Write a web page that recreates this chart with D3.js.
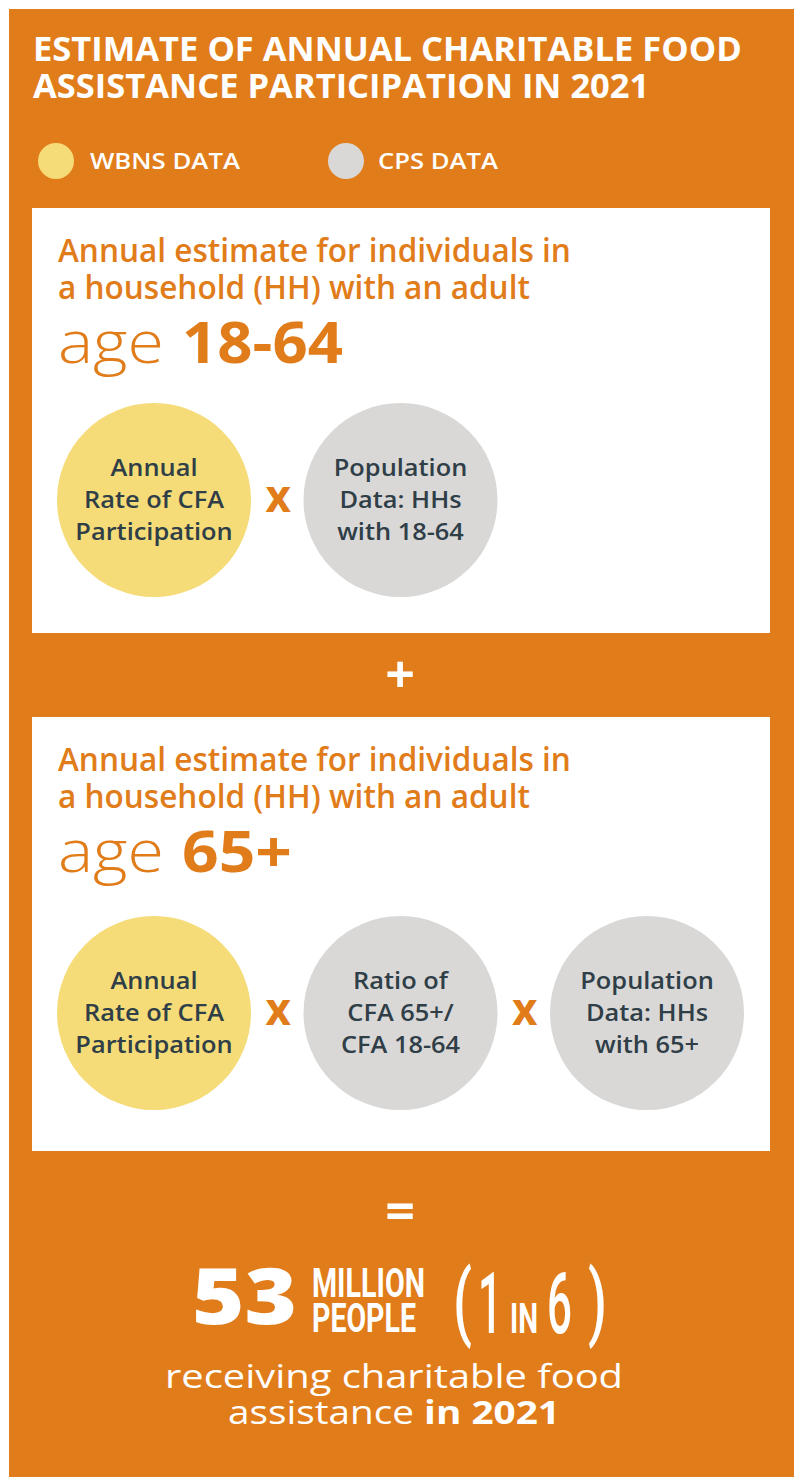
<!DOCTYPE html>
<html>
<head>
<meta charset="utf-8">
<script src="https://cdn.jsdelivr.net/npm/d3@7"></script>
<style>
  html, body { margin: 0; padding: 0; background: #fff; }
  svg { display: block; }
</style>
</head>
<body>
<svg id="chart" width="797" height="1477"></svg>
<script>
// ---- content ----
var titleLines = ["ESTIMATE OF ANNUAL CHARITABLE FOOD", "ASSISTANCE PARTICIPATION IN 2021"];
var legendSources = ["WBNS", "CPS"];
var legendLabels = ["WBNS DATA", "CPS DATA"];
var headlineLines = ["Annual estimate for individuals in", "a household (HH) with an adult"];
var panelAges = ["18-64", "65+"];
var panel1Sources = ["WBNS", "CPS"];
var panel1Factors = [
  ["Annual", "Rate of CFA", "Participation"],
  ["Population", "Data: HHs", "with 18-64"]
];
var panel2Sources = ["WBNS", "CPS", "CPS"];
var panel2Factors = [
  ["Annual", "Rate of CFA", "Participation"],
  ["Ratio of", "CFA 65+/", "CFA 18-64"],
  ["Population", "Data: HHs", "with 65+"]
];
var operators = ["+", "="];
var resultNumber = "53";
var resultUnit = ["MILLION", "PEOPLE"];
var resultRatio = ["(", "1", "IN", "6", ")"];
var captionLine1 = "receiving charitable food";
var captionLine2 = ["assistance ", "in 2021"];

// ---- style ----
var orange = "#E17C1A";
var dark = "#2F3E47";
var colorFor = { WBNS: "#F5DC78", CPS: "#D9D8D7" };
var font = "'Open Sans', 'DejaVu Sans', sans-serif";
var narrow = "'Roboto', 'Open Sans', sans-serif";

var svg = d3.select("#chart");

// widen a text node horizontally by a factor (the reference face is wider)
function stretch(node, factor) {
  var w = node.getComputedTextLength();
  d3.select(node).attr("textLength", w * factor).attr("lengthAdjust", "spacingAndGlyphs");
}

// place a text at (x, y) and squeeze/stretch it to a given ink width with a transform
function placeScaled(parent, str, x, y, width, size, weight, family) {
  var g = parent.append("g");
  var t = g.append("text")
    .attr("font-family", family).attr("font-weight", weight).attr("font-size", size)
    .attr("fill", "#fff")
    .text(str);
  var b = t.node().getBBox();
  var sx = width / b.width;
  g.attr("transform", "translate(" + (x - b.x * sx) + "," + y + ") scale(" + sx + ",1)");
  return g;
}

svg.append("rect").attr("x", 9).attr("y", 9).attr("width", 785).attr("height", 1470).attr("fill", orange);

// title
svg.selectAll(".title").data(titleLines).enter().append("text")
  .attr("class", "title")
  .attr("x", 33)
  .attr("y", function (d, i) { return 61 + i * 37; })
  .attr("font-family", font).attr("font-weight", 700).attr("font-size", 29)
  .attr("fill", "#fff")
  .text(function (d) { return d; });
var tw = svg.select(".title").node().getComputedTextLength();
svg.selectAll(".title").attr("font-size", 29 * 709 / tw);

// legend
var legendX = d3.scaleLinear().domain([0, 1]).range([56, 346]);
var legendW = [150, 120];
var lg = svg.selectAll(".legend").data(legendSources).enter().append("g")
  .attr("class", "legend")
  .attr("transform", function (d, i) { return "translate(" + legendX(i) + ",161)"; });
lg.append("circle").attr("r", 18).attr("fill", function (d) { return colorFor[d]; });
lg.append("text")
  .attr("x", function (d, i) { return i === 0 ? 34 : 32; }).attr("y", 8)
  .attr("font-family", font).attr("font-weight", 600).attr("font-size", 21)
  .attr("fill", "#fff")
  .attr("textLength", function (d, i) { return legendW[i]; })
  .attr("lengthAdjust", "spacingAndGlyphs")
  .text(function (d, i) { return legendLabels[i]; });

// panels
var factorX = d3.scaleLinear().domain([0, 2]).range([154, 647]);
var ageW = { "18-64": 161, "65+": 110 };

function drawPanel(top, height, age, sources, factors) {
  var g = svg.append("g");
  g.append("rect").attr("x", 32).attr("y", top).attr("width", 738).attr("height", height).attr("fill", "#fff");

  var hl = g.selectAll(".hl").data(headlineLines).enter().append("text")
    .attr("x", 58)
    .attr("y", function (d, i) { return top + 54 + i * 37; })
    .attr("font-family", font).attr("font-weight", 600).attr("font-size", 27)
    .attr("fill", orange)
    .text(function (d) { return d; });
  var hw = hl.node().getComputedTextLength();
  hl.attr("font-size", 27 * 513 / hw);

  g.append("text")
    .attr("x", 58).attr("y", top + 155)
    .attr("font-family", font).attr("font-weight", 300).attr("font-size", 58)
    .attr("fill", orange)
    .attr("textLength", 106).attr("lengthAdjust", "spacingAndGlyphs")
    .text("age");
  g.append("text")
    .attr("x", 182).attr("y", top + 155)
    .attr("font-family", font).attr("font-weight", 700).attr("font-size", 58)
    .attr("fill", orange)
    .attr("textLength", ageW[age]).attr("lengthAdjust", "spacingAndGlyphs")
    .text(age);

  var cy = factors.length === 3 ? top + 296 : top + 292;
  var fg = g.selectAll(".factor").data(factors).enter().append("g")
    .attr("transform", function (d, i) { return "translate(" + factorX(i) + "," + cy + ")"; });
  fg.append("circle").attr("r", 97).attr("fill", function (d, i) { return colorFor[sources[i]]; });
  fg.selectAll("text").data(function (d) { return d; }).enter().append("text")
    .attr("text-anchor", "middle")
    .attr("y", function (d, j) { return -24 + j * 32; })
    .attr("font-family", font).attr("font-weight", 600).attr("font-size", 23.5)
    .attr("fill", dark)
    .text(function (d) { return d; })
    .each(function () { stretch(this, 1.08); });

  g.selectAll(".op").data(d3.range(factors.length - 1)).enter().append("text")
    .attr("text-anchor", "middle")
    .attr("x", function (i) { return (factorX(i) + factorX(i + 1)) / 2 + 1; })
    .attr("y", cy + 12)
    .attr("font-family", font).attr("font-weight", 700).attr("font-size", 44)
    .attr("fill", orange)
    .text("x");
}

drawPanel(208, 425, panelAges[0], panel1Sources, panel1Factors);
drawPanel(717, 434, panelAges[1], panel2Sources, panel2Factors);

// operators between panels
svg.selectAll(".bigop").data(operators).enter().append("text")
  .attr("text-anchor", "middle")
  .attr("x", 400)
  .attr("y", function (d, i) { return i === 0 ? 693 : 1230; })
  .attr("font-family", font).attr("font-weight", 700).attr("font-size", 52)
  .attr("fill", "#fff")
  .text(function (d) { return d; });

// result row
var result = svg.append("g");
placeScaled(result, resultNumber, 192, 1324, 105, 78, 800, font);

var unitY = [1297, 1332];
var unitW = [113, 104];
resultUnit.forEach(function (d, i) {
  placeScaled(result, d, 312, unitY[i], unitW[i], 40, 700, narrow);
});

var ratioX = [453, 478, 510, 547, 588];
var ratioY = [1330, 1333, 1333, 1333, 1330];
var ratioW = [19, 24, 28, 25, 19];
var ratioSize = [84, 86, 42, 86, 84];
resultRatio.forEach(function (d, i) {
  placeScaled(result, d, ratioX[i], ratioY[i], ratioW[i], ratioSize[i], d === "IN" ? 700 : 500, narrow);
});

var c1 = svg.append("text")
  .attr("x", 394).attr("y", 1388).attr("text-anchor", "middle")
  .attr("font-family", font).attr("font-weight", 400).attr("font-size", 32)
  .attr("fill", "#fff")
  .text(captionLine1);
stretch(c1.node(), 458 / c1.node().getComputedTextLength());

var c2 = svg.append("text")
  .attr("x", 394).attr("y", 1424).attr("text-anchor", "middle")
  .attr("font-family", font).attr("font-size", 32)
  .attr("fill", "#fff")
  .attr("textLength", 332).attr("lengthAdjust", "spacingAndGlyphs");
c2.append("tspan").attr("font-weight", 400).text(captionLine2[0]);
c2.append("tspan").attr("font-weight", 700).text(captionLine2[1]);
</script>
</body>
</html>
